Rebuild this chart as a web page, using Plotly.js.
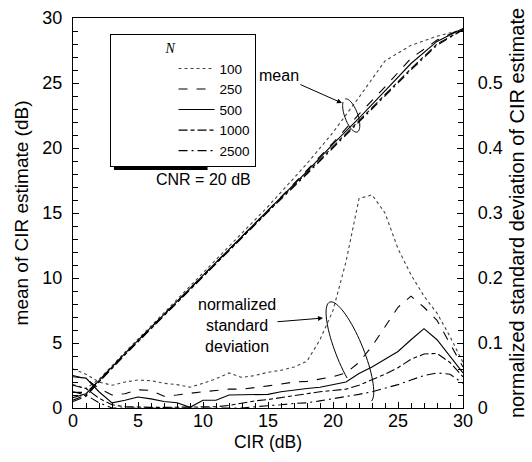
<!DOCTYPE html>
<html>
<head>
<meta charset="utf-8">
<script src="https://cdn.plot.ly/plotly-3.0.1.min.js"></script>
<style>
  html, body { margin: 0; padding: 0; background: #fff; }
  #chart { width: 532px; height: 462px; }
</style>
</head>
<body>
<div id="chart"></div>
<script>
// ---- data ----
const seriesNames = ["100", "250", "500", "1000", "2500"];

// mean of CIR estimate (dB), left axis
const meanCIR = [0, 1, 2, 4, 6, 10, 15, 18, 20, 22, 24, 26, 28, 30];
const mean100  = [1.8, 1.5, 2.2, 4.3, 6.3, 10.4, 15.5, 18.8, 21.2, 23.9, 26.7, 27.9, 28.6, 29.1];
const mean250  = [1.2, 1.2, 2.1, 4.2, 6.2, 10.2, 15.2, 18.3, 20.4, 22.6, 24.7, 26.9, 28.3, 29.2];
const mean500  = [0.8, 1.1, 2.1, 4.2, 6.2, 10.2, 15.2, 18.2, 20.3, 22.3, 24.4, 26.5, 28.2, 29.2];
const mean1000 = [0.6, 1.0, 2.0, 4.1, 6.1, 10.1, 15.1, 18.1, 20.1, 22.1, 24.1, 26.1, 28.0, 29.1];
const mean2500 = [0.5, 0.9, 2.0, 4.1, 6.1, 10.1, 15.1, 18.0, 20.0, 22.0, 24.0, 26.0, 27.9, 29.1];

// normalized standard deviation of CIR estimate, right axis
const sdCIR = [0,1,2,3,4,5,6,7,8,9,10,11,12,13,14,15,16,17,18,19,20,21,22,23,24,25,26,27,28,29,30];
const sd100  = [0.060,0.052,0.040,0.035,0.040,0.043,0.042,0.038,0.036,0.032,0.038,0.045,0.054,0.047,0.050,0.055,0.058,0.063,0.072,0.105,0.150,0.225,0.322,0.328,0.300,0.245,0.205,0.172,0.146,0.110,0.070];
const sd250  = [0.050,0.045,0.030,0.020,0.022,0.028,0.027,0.018,0.020,0.023,0.025,0.027,0.029,0.029,0.031,0.034,0.037,0.040,0.041,0.044,0.048,0.054,0.070,0.095,0.125,0.155,0.172,0.155,0.135,0.100,0.063];
const sd500  = [0.048,0.046,0.025,0.008,0.012,0.017,0.014,0.010,0.008,0.001,0.012,0.012,0.020,0.020,0.020,0.021,0.025,0.028,0.030,0.032,0.036,0.040,0.053,0.063,0.075,0.087,0.105,0.122,0.105,0.080,0.054];
const sd1000 = [0.035,0.030,0.015,0.005,0.002,0.001,0.001,0.001,0.001,0.001,0.002,0.002,0.004,0.008,0.011,0.013,0.016,0.019,0.023,0.025,0.027,0.029,0.035,0.043,0.052,0.062,0.075,0.083,0.084,0.070,0.048];
const sd2500 = [0.025,0.020,0.008,0.000,0.000,0.000,0.000,0.000,0.000,0.000,0.000,0.000,0.000,0.000,0.002,0.003,0.005,0.007,0.008,0.011,0.014,0.017,0.021,0.025,0.030,0.036,0.043,0.050,0.054,0.052,0.038];

const xTicks = [0, 5, 10, 15, 20, 25, 30];
const yTicks = [0, 5, 10, 15, 20, 25, 30];
const y2Ticks = [0, 0.1, 0.2, 0.3, 0.4, 0.5];
const y2TickText = ["0", "0.1", "0.2", "0.3", "0.4", "0.5"];

// ---- styles ----
const dashes = ["dot", "dash", "solid", "9px,3px,4px,3px", "9px,4px,2px,4px"];
const colors = ["#444", "#000", "#000", "#000", "#000"];
const FONT = "Liberation Sans, Arial, Helvetica, sans-serif";

const meanSeries = [mean100, mean250, mean500, mean1000, mean2500];
const sdSeries = [sd100, sd250, sd500, sd1000, sd2500];

const traces = [];
meanSeries.forEach((ys, i) => {
  traces.push({
    x: meanCIR, y: ys, type: "scatter", mode: "lines",
    name: seriesNames[i], legendgroup: seriesNames[i], showlegend: true,
    line: { color: colors[i], width: 1.1, dash: dashes[i] },
    yaxis: "y", hoverinfo: "skip"
  });
});
sdSeries.forEach((ys, i) => {
  traces.push({
    x: sdCIR, y: ys, type: "scatter", mode: "lines",
    name: seriesNames[i], legendgroup: seriesNames[i], showlegend: false,
    line: { color: colors[i], width: 1.1, dash: dashes[i] },
    yaxis: "y2", hoverinfo: "skip", cliponaxis: true
  });
});

// decorative loops (in left-axis units, equal aspect)
function loopPath(cx, cy, a, b, angDeg, t0, t1) {
  const ang = angDeg * Math.PI / 180;
  let p = "";
  const n = 60;
  for (let k = 0; k <= n; k++) {
    const t = (t0 + (t1 - t0) * k / n) * 2 * Math.PI;
    const ex = a * Math.cos(t), ey = b * Math.sin(t);
    const x = cx + ex * Math.cos(ang) - ey * Math.sin(ang);
    const y = cy + ex * Math.sin(ang) + ey * Math.cos(ang);
    p += (k === 0 ? "M" : "L") + x.toFixed(3) + "," + y.toFixed(3);
  }
  return p;
}

const NB = "\u00A0";
const legendTitle = NB.repeat(15) + "<i>N</i>";

const layout = {
  width: 532, height: 462,
  margin: { l: 73, r: 69, t: 18, b: 54, pad: 0 },
  paper_bgcolor: "#fff", plot_bgcolor: "#fff",
  font: { family: FONT, color: "#000", size: 16 },
  showlegend: true,
  xaxis: {
    range: [0, 30], tickvals: xTicks, ticks: "inside", ticklen: 6, tickwidth: 1, tickcolor: "#000",
    showline: true, linecolor: "#000", linewidth: 1.2, mirror: true, showgrid: false, zeroline: false,
    tickfont: { size: 18, family: FONT }, ticklabelstandoff: -4,
    minor: { dtick: 1, ticks: "inside", ticklen: 5, tickcolor: "#000", showgrid: false },
    title: { text: "CIR (dB)", font: { size: 17.5, family: FONT }, standoff: 6 },
    automargin: false
  },
  yaxis: {
    range: [0, 30], tickvals: yTicks, ticks: "inside", ticklen: 6, tickwidth: 1, tickcolor: "#000",
    showline: true, linecolor: "#000", linewidth: 1.2, mirror: false, showgrid: false, zeroline: false,
    tickfont: { size: 18, family: FONT }, ticklabelstandoff: 6,
    minor: { dtick: 1, ticks: "inside", ticklen: 5, tickcolor: "#000", showgrid: false },
    title: { text: "mean of CIR estimate (dB)", font: { size: 19, family: FONT }, standoff: 8 },
    automargin: false
  },
  yaxis2: {
    overlaying: "y", side: "right", range: [0, 0.6], tickvals: y2Ticks, ticktext: y2TickText,
    ticks: "inside", ticklen: 6, tickwidth: 1, tickcolor: "#000",
    showline: true, linecolor: "#000", linewidth: 1.2, showgrid: false, zeroline: false,
    tickfont: { size: 18, family: FONT }, ticklabelstandoff: 10,
    minor: { dtick: 0.02, ticks: "inside", ticklen: 5, tickcolor: "#000", showgrid: false },
    title: { text: "normalized standard deviation of CIR estimate", font: { size: 20, family: FONT }, standoff: 8 },
    automargin: false
  },
  legend: {
    x: 0.095, y: 0.959, xanchor: "left", yanchor: "top",
    bgcolor: "#fff", bordercolor: "#000", borderwidth: 1,
    font: { size: 13.5, family: FONT },
    title: { text: legendTitle, side: "top left", font: { family: "Liberation Serif, Times New Roman, serif", size: 14 } },
    tracegroupgap: 0, itemwidth: 36
  },
  shapes: [
    { type: "rect", xref: "paper", yref: "paper", x0: 0.105, x1: 0.345, y0: 0.610, y1: 0.951,
      fillcolor: "#000", line: { width: 0 }, layer: "above" },
    { type: "path", xref: "x", yref: "y", path: loopPath(21.4, 22.5, 1.35, 0.5, -70, 0.58, 1.5),
      line: { color: "#000", width: 1 } },
    { type: "path", xref: "x", yref: "y", path: loopPath(21.3, 4.3, 4.15, 1.05, -68, 0.02, 0.82),
      line: { color: "#000", width: 1 } }
  ],
  annotations: [
    { text: "CNR = 20 dB", xref: "paper", yref: "paper", x: 0.208, y: 0.585, showarrow: false,
      bgcolor: "rgba(0,0,0,0)", font: { size: 16, family: FONT } },
    { text: "mean", xref: "x", yref: "y", x: 20.69, y: 23.46, ax: -63, ay: -28,
      showarrow: true, arrowhead: 2, arrowsize: 1, arrowwidth: 1, arrowcolor: "#000",
      font: { size: 16, family: FONT } },
    { text: "normalized<br>standard<br>deviation", xref: "x", yref: "y", x: 19.23, y: 6.92, ax: -86, ay: 7,
      showarrow: true, arrowhead: 2, arrowsize: 1, arrowwidth: 1, arrowcolor: "#000",
      font: { size: 16, family: FONT } }
  ]
};

Plotly.newPlot("chart", traces, layout, { displayModeBar: false, staticPlot: true });
</script>
</body>
</html>
